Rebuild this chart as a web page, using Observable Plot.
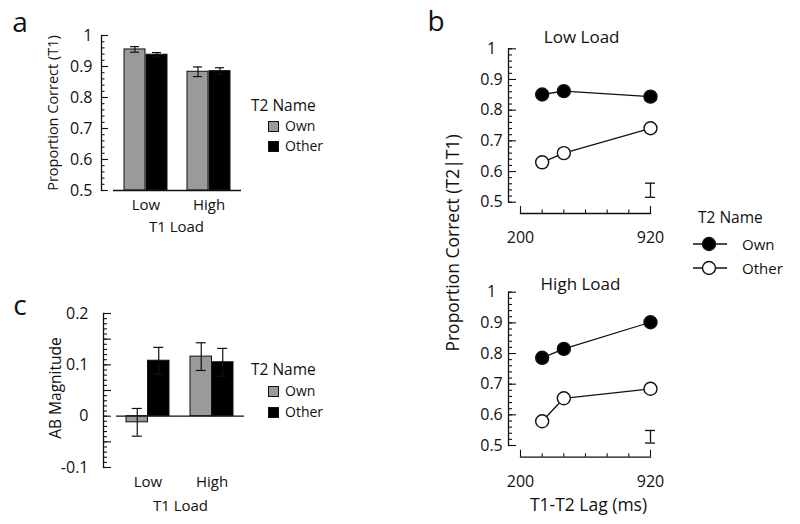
<!DOCTYPE html>
<html><head><meta charset="utf-8">
<script src="https://cdn.jsdelivr.net/npm/d3@7"></script>
<script src="https://cdn.jsdelivr.net/npm/@observablehq/plot@0.6"></script>
<style>
body{margin:0;background:#fff;}
#root{position:relative;width:800px;height:524px;overflow:hidden;font-family:"Open Sans",sans-serif;color:#111;background:#fff;}
.t{position:absolute;white-space:nowrap;line-height:1;}
.c{transform:translate(-50%,-50%);}
.l{transform:translateY(-50%);}
.rot{transform:translate(-50%,-50%) rotate(-90deg);}
#root svg{position:absolute;overflow:visible;}
.sw{position:absolute;width:9px;height:9px;border:1px solid #111;}
</style></head><body><div id="root"></div>
<script>
// ---------- data ----------
const loads = ["Low", "High"];
const names = ["Own", "Other"];
// panel a: T1 accuracy (order: Low-Own, Low-Other, High-Own, High-Other)
const t1Mean = [0.955, 0.938, 0.883, 0.885];
const t1Err  = [0.009, 0.007, 0.0155, 0.011];
// panel c: AB magnitude
const abMean = [-0.012, 0.108, 0.116, 0.105];
const abErr  = [0.027, 0.026, 0.027, 0.027];
// panel b: T2|T1 accuracy by lag
const lags = [320, 440, 920];
const lowOwn    = [0.851, 0.862, 0.844];
const lowOther  = [0.630, 0.660, 0.741];
const highOwn   = [0.786, 0.815, 0.902];
const highOther = [0.579, 0.654, 0.685];
const lowBar  = [0.516, 0.562];   // representative error bar
const highBar = [0.508, 0.549];
const errLag = 920;
// ticks
const propTicks = [0.5, 0.6, 0.7, 0.8, 0.9, 1];
const propTickLabels = ["0.5", "0.6", "0.7", "0.8", "0.9", "1"];
const abTicks = [-0.1, 0, 0.1, 0.2];
const abTickLabels = ["-0.1", "0", "0.1", "0.2"];
const lagTicks = [200, 920];
const lagTickLabels = ["200", "920"];
const lagMinor = [320, 440, 560, 680, 800];

const rows = [];
loads.forEach((L, i) => names.forEach((N, j) => {
  const k = i * 2 + j;
  rows.push({load: L, name: N, t1: t1Mean[k], t1e: t1Err[k], ab: abMean[k], abe: abErr[k]});
}));

const root = document.getElementById("root");
const INK = "#111";
const FONT = "'Open Sans', sans-serif";

function place(el, left, top) {
  el.style.left = left + "px"; el.style.top = top + "px";
  root.appendChild(el);
}
function txt(s, x, y, size, cls) {
  const d = document.createElement("div");
  d.className = "t " + cls; d.textContent = s;
  d.style.fontSize = size + "px";
  place(d, x, y);
  return d;
}

function barPanel(o) {
  const isOwn = d => d.name === "Own";
  const isOther = d => d.name === "Other";
  const lo = d => d[o.value] - d[o.err];
  const hi = d => d[o.value] + d[o.err];
  const h = o.half, q = o.half / 2;
  const firstLoad = () => loads[0];
  const p = Plot.plot({
    width: o.width, height: o.height,
    marginLeft: o.mL, marginRight: o.mR, marginTop: o.mT, marginBottom: o.mB,
    style: {fontFamily: FONT, background: "none", color: INK},
    x: {domain: loads, paddingInner: o.pIn, paddingOuter: o.pOut},
    y: {domain: o.domain},
    color: {domain: names, range: ["#9a9a9a", "#000000"]},
    marks: [
      Plot.barY(rows, {filter: isOwn, x: "load", y1: o.base, y2: o.value, fill: "name", stroke: INK, strokeWidth: 1, insetRight: h}),
      Plot.barY(rows, {filter: isOther, x: "load", y1: o.base, y2: o.value, fill: "name", stroke: INK, strokeWidth: 1, insetLeft: h}),
      Plot.ruleX(rows, {filter: isOwn, x: "load", y1: lo, y2: hi, dx: -q, stroke: INK, strokeWidth: 1.2}),
      Plot.ruleX(rows, {filter: isOther, x: "load", y1: lo, y2: hi, dx: q, stroke: INK, strokeWidth: 1.2}),
      Plot.tickY(rows, {filter: isOwn, x: "load", y: hi, insetLeft: q - 5, insetRight: h + q - 5, stroke: INK, strokeWidth: 1.2}),
      Plot.tickY(rows, {filter: isOwn, x: "load", y: lo, insetLeft: q - 5, insetRight: h + q - 5, stroke: INK, strokeWidth: 1.2}),
      Plot.tickY(rows, {filter: isOther, x: "load", y: hi, insetLeft: h + q - 5, insetRight: q - 5, stroke: INK, strokeWidth: 1.2}),
      Plot.tickY(rows, {filter: isOther, x: "load", y: lo, insetLeft: h + q - 5, insetRight: q - 5, stroke: INK, strokeWidth: 1.2}),
      Plot.ruleY([o.base], {insetLeft: o.bL, insetRight: o.bR, stroke: INK, strokeWidth: 1.4}),
      Plot.frame({anchor: "left", stroke: INK, strokeWidth: 1.3}),
      // inward axis ticks, anchored on the first band and pulled back to the axis line
      ...o.tickSets.map(([t, len]) => Plot.tickY(t, {x: firstLoad, y: d => d,
        insetLeft: -o.outer, insetRight: o.outer + o.bw - len, stroke: INK, strokeWidth: 1.1})),
      Plot.axisY({ticks: o.ticks, tickSize: 0, tickPadding: o.labelPad, tickFormat: d => o.tickLabels[o.ticks.indexOf(d)], fontSize: 16, label: null}),
      Plot.axisX({tickSize: 0, tickPadding: o.xPad, fontSize: 15, label: null})
    ]
  });
  place(p, o.left, o.top);
}

// panel a
barPanel({left: 0, top: 0, width: 260, height: 240, mL: 101, mR: 7, mT: 35, mB: 50,
  domain: [0.5, 1], base: 0.5, value: "t1", err: "t1e",
  pIn: 0.3125, pOut: 0.344, half: 22, bL: 12, bR: 12, outer: 22, bw: 44,
  ticks: propTicks, tickLabels: propTickLabels,
  tickSets: [[propTicks, 7], [d3.ticks(0.5, 1, 25), 3.5]],
  labelPad: 9, xPad: 8.5});

// panel c
barPanel({left: 0, top: 260, width: 264, height: 264, mL: 103, mR: 8, mT: 53, mB: 57,
  domain: [-0.1, 0.2], base: 0, value: "ab", err: "abe",
  pIn: 0.328, pOut: 0.359, half: 21.5, bL: 13, bR: 12, outer: 23, bw: 43,
  ticks: abTicks, tickLabels: abTickLabels,
  tickSets: [[d3.ticks(-0.1, 0.2, 6), 8], [d3.ticks(-0.1, 0.2, 30), 4]],
  labelPad: 15, xPad: 9.3});

// panel b
function lagPanel(o) {
  const data = [];
  lags.forEach((lag, i) => data.push({lag, p: o.own[i], name: "Own"}));
  lags.forEach((lag, i) => data.push({lag, p: o.other[i], name: "Other"}));
  const minorY = d3.ticks(0.5, 1, 25);
  const W = 240, mL = 88, mR = 10, xIn = 12;
  const x0 = lagTicks[0], y0 = propTicks[0];
  const yTick = (t, len) => Plot.ruleY(t, {y: d => d, x1: x0, x2: x0,
    insetLeft: -xIn, insetRight: xIn - len, stroke: INK, strokeWidth: 1.1});
  const xTick = (t, len) => Plot.ruleX(t, {x: d => d, y1: y0, y2: y0,
    insetTop: o.yInset - len, insetBottom: -o.yInset, stroke: INK, strokeWidth: 1.1});
  const p = Plot.plot({
    width: W, height: o.height,
    marginLeft: mL, marginRight: mR, marginTop: o.mT, marginBottom: o.mB,
    style: {fontFamily: FONT, background: "none", color: INK},
    x: {domain: [200, 920], insetLeft: xIn},
    y: {domain: [0.5, 1], insetBottom: o.yInset},
    color: {domain: names, range: ["#000000", "#ffffff"]},
    marks: [
      Plot.frame({anchor: "left", insetBottom: o.yInset, stroke: INK, strokeWidth: 1.3}),
      Plot.frame({anchor: "bottom", insetLeft: xIn, stroke: INK, strokeWidth: 1.3}),
      yTick(propTicks, 8), yTick(minorY, 4),
      xTick(lagTicks, 7), xTick(lagMinor, 3.5),
      Plot.axisY({ticks: propTicks, tickSize: 0, tickPadding: 17, textAnchor: "middle", tickFormat: d => propTickLabels[propTicks.indexOf(d)], fontSize: 16, label: null}),
      Plot.axisX({ticks: lagTicks, tickSize: 0, tickPadding: 18.5, tickFormat: d => lagTickLabels[lagTicks.indexOf(d)], fontSize: 16, label: null}),
      Plot.line(data, {x: "lag", y: "p", z: "name", stroke: INK, strokeWidth: 1.3}),
      Plot.dot(data, {x: "lag", y: "p", r: 6.5, fill: "name", stroke: INK, strokeWidth: 1.4}),
      Plot.ruleX([o.bar], {x: errLag, y1: d => d[0], y2: d => d[1], stroke: INK, strokeWidth: 1.3}),
      Plot.ruleY(o.bar, {x1: errLag, x2: errLag, y: d => d, insetLeft: -5, insetRight: -5, stroke: INK, strokeWidth: 1.3})
    ]
  });
  place(p, 420, o.top);
}
lagPanel({top: 0, height: 260, mT: 48.3, mB: 47, yInset: 11.3, own: lowOwn, other: lowOther, bar: lowBar});
lagPanel({top: 260, height: 264, mT: 31.7, mB: 67.3, yInset: 11.7, own: highOwn, other: highOther, bar: highBar});

// ---------- text ----------
txt("a", 20, 20.6, 28, "c");
txt("b", 436, 20.1, 28, "c");
txt("c", 20, 304, 28, "c");
txt("Proportion Correct (T1)", 53, 112.5, 14.5, "rot");
txt("T1 Load", 176.5, 226, 15, "c");
txt("AB Magnitude", 56, 388, 15.5, "rot");
txt("T1 Load", 180.5, 505, 15, "c");
txt("Low Load", 581.7, 35.5, 17, "c");
txt("High Load", 580.5, 282.5, 17, "c");
txt("Proportion Correct (T2|T1)", 453, 243, 17.5, "rot");
txt("T1-T2 Lag (ms)", 588.5, 505, 17.5, "c");

// legends a & c
function squareLegend(ty, y1, y2) {
  txt("T2 Name", 251, ty, 15.5, "l");
  const fills = ["#9a9a9a", "#000000"];
  [y1, y2].forEach((y, i) => {
    const s = document.createElement("div");
    s.className = "sw"; s.style.background = fills[i];
    place(s, 268, y - 5);
    txt(names[i], 285, y, 14, "l");
  });
}
squareLegend(106, 126, 146);
squareLegend(370, 390.5, 412);

// legend b
txt("T2 Name", 698, 218, 15.5, "l");
[[243.5, "#000"], [268, "#fff"]].forEach(([y, f], i) => {
  const ns = "http://www.w3.org/2000/svg";
  const s = document.createElementNS(ns, "svg");
  s.setAttribute("width", 40); s.setAttribute("height", 20);
  s.innerHTML = `<line x1="1" y1="10" x2="35" y2="10" stroke="${INK}" stroke-width="1.3"/><circle cx="17" cy="10" r="6.5" fill="${f}" stroke="${INK}" stroke-width="1.4"/>`;
  place(s, 692, y - 10);
  txt(names[i], 742, y, 15, "l");
});
</script></body></html>
